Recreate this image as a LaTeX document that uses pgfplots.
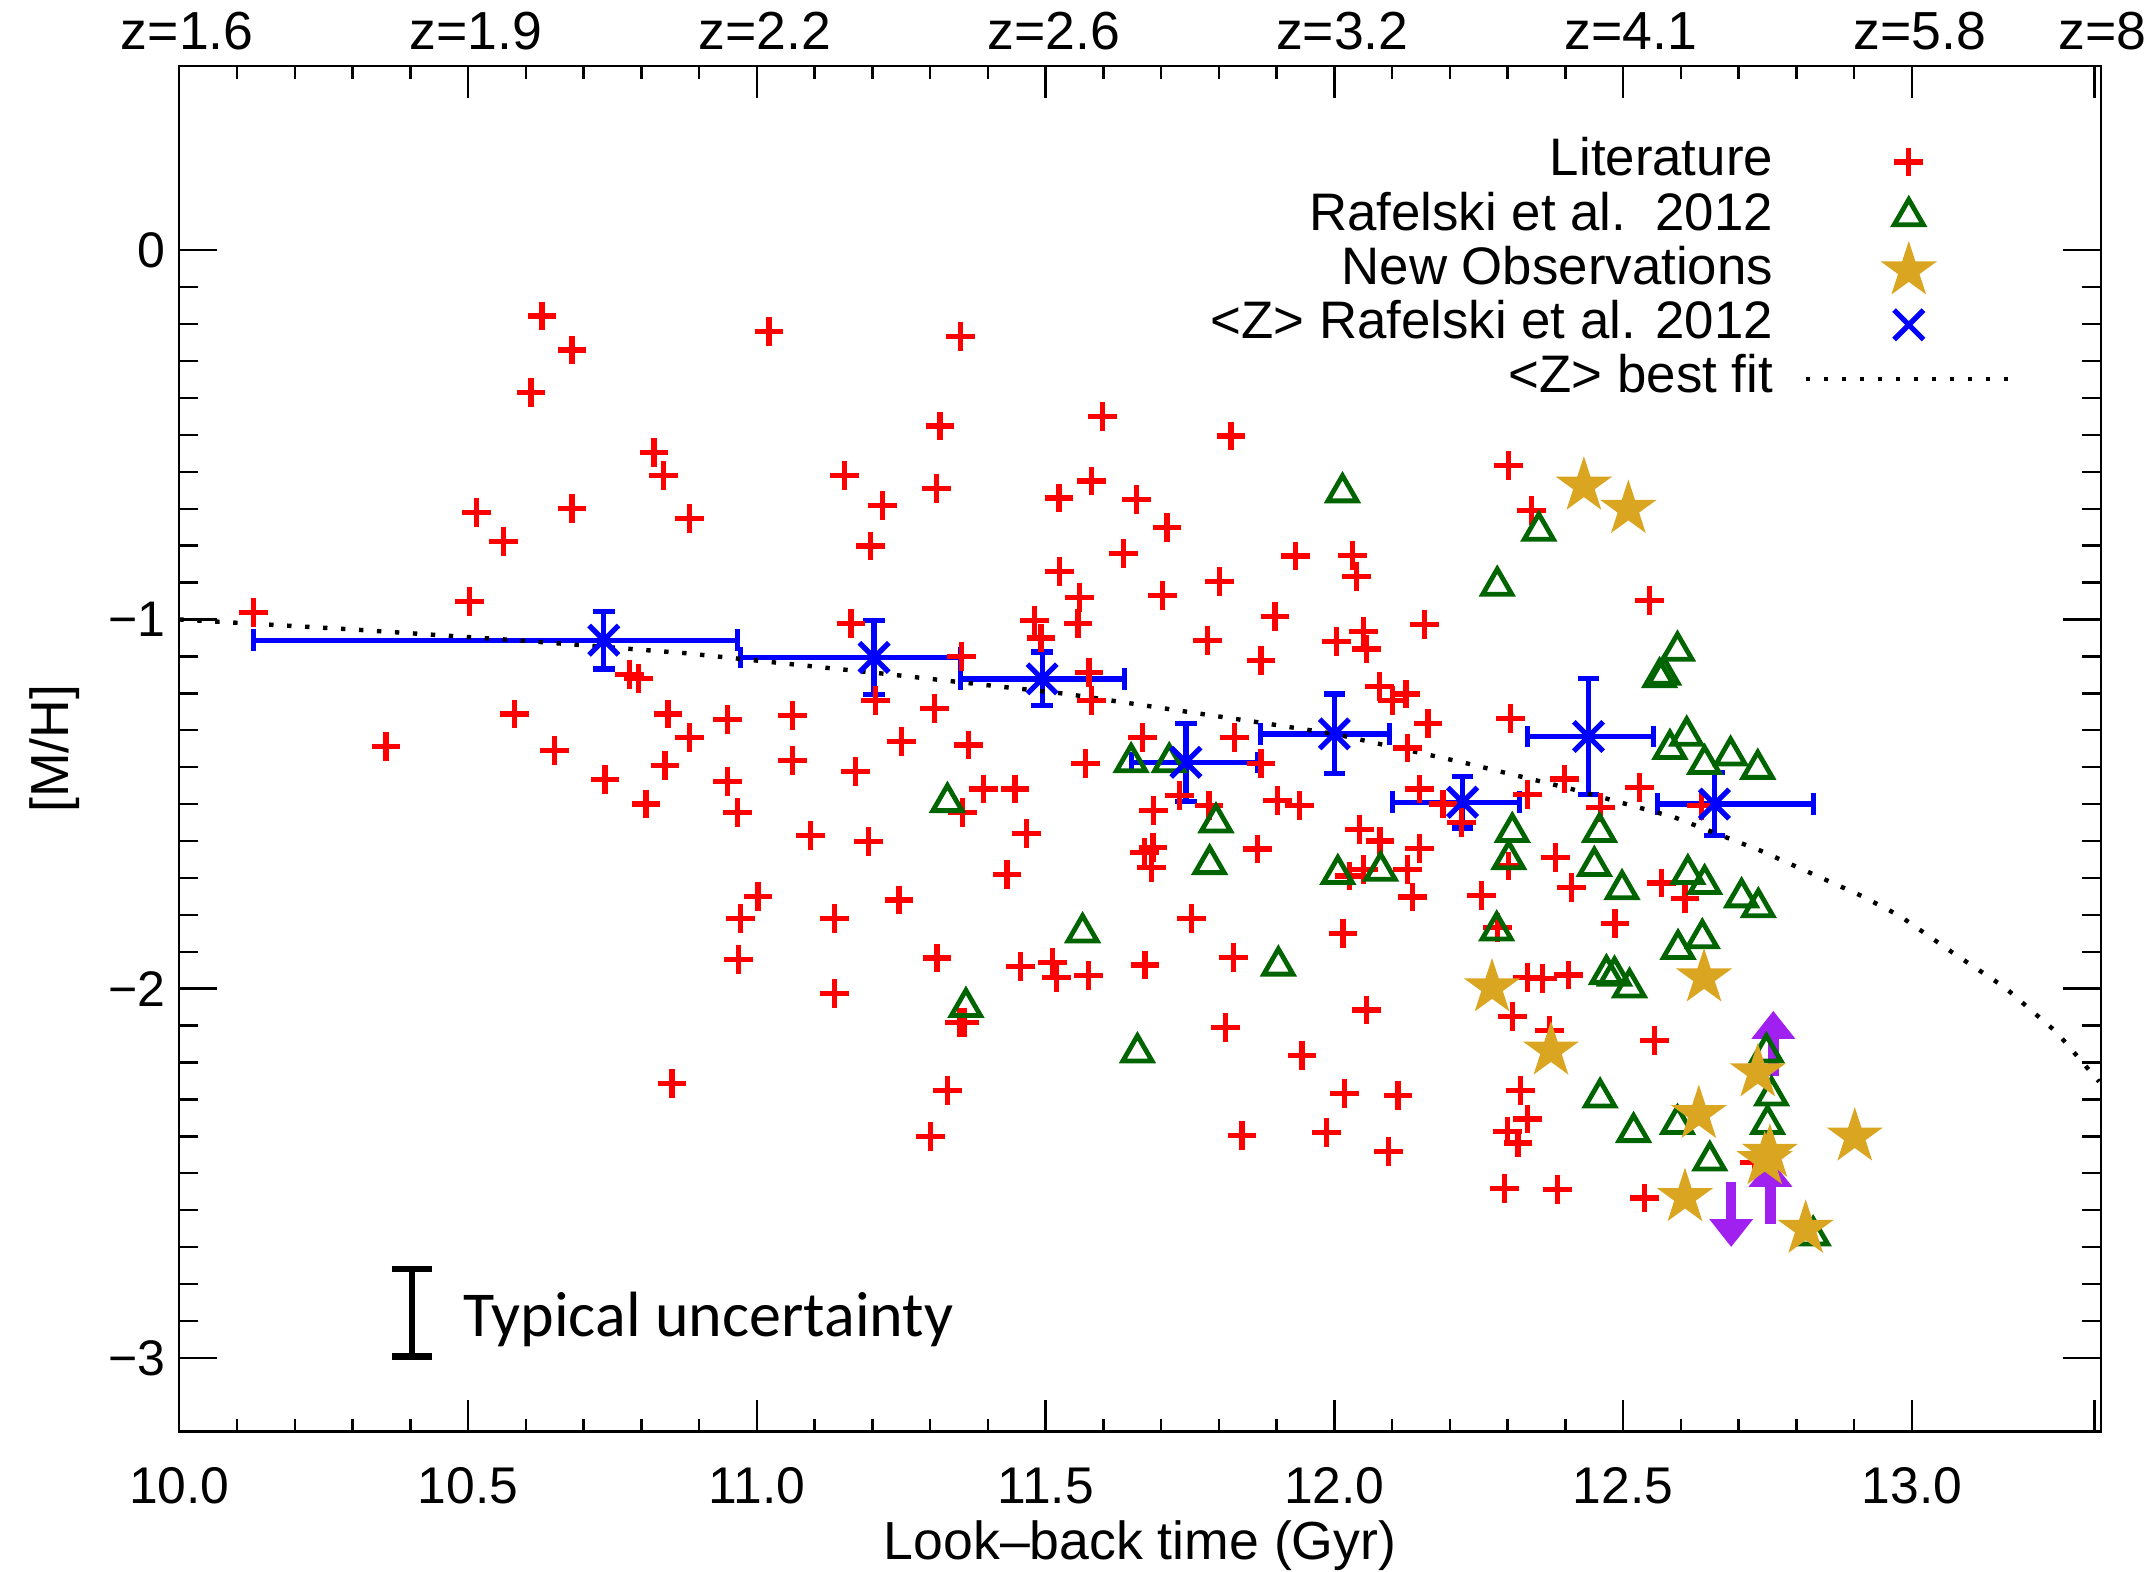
\documentclass[border=0pt]{standalone}
\usepackage{pgfplots}
\pgfplotsset{compat=1.18}
\usetikzlibrary{arrows.meta}
\usepackage{fontspec}
\setmainfont{Liberation Sans}
\newfontfamily\calibri{Carlito}
\definecolor{dgreen}{RGB}{0,100,0}
\definecolor{gold}{RGB}{218,165,32}
\definecolor{xpurple}{RGB}{160,32,240}
\pgfdeclareplotmark{fstar}{%
 \pgfpathmoveto{\pgfpointpolar{90}{\pgfplotmarksize}}%
 \pgfpathlineto{\pgfpointpolar{126}{0.382\pgfplotmarksize}}%
 \pgfpathlineto{\pgfpointpolar{162}{\pgfplotmarksize}}%
 \pgfpathlineto{\pgfpointpolar{198}{0.382\pgfplotmarksize}}%
 \pgfpathlineto{\pgfpointpolar{234}{\pgfplotmarksize}}%
 \pgfpathlineto{\pgfpointpolar{270}{0.382\pgfplotmarksize}}%
 \pgfpathlineto{\pgfpointpolar{306}{\pgfplotmarksize}}%
 \pgfpathlineto{\pgfpointpolar{342}{0.382\pgfplotmarksize}}%
 \pgfpathlineto{\pgfpointpolar{18}{\pgfplotmarksize}}%
 \pgfpathlineto{\pgfpointpolar{54}{0.382\pgfplotmarksize}}%
 \pgfpathclose\pgfusepathqfill}
\pgfplotsset{
 legmark/.style={legend image code/.code={\draw[overlay,mark repeat=2,mark phase=2,##1] plot coordinates {(0pt,0pt) (25.8pt,0pt) (51.6pt,0pt)};}},
 legline/.style={legend image code/.code={\draw[##1] (0pt,0pt) -- (51.6pt,0pt);}},
}
\begin{document}
\begin{tikzpicture}
\begin{axis}[
  at={(0pt,0pt)}, anchor=south west,
  scale only axis, width=480.4pt, height=341.5pt,
  xmin=10, xmax=13.327, ymin=-3.2, ymax=0.5,
  axis line style={line width=0.6pt},
  tick style={line width=0.6pt, black},
  xtick={10,10.5,11,11.5,12,12.5,13},
  xticklabels={10.0,10.5,11.0,11.5,12.0,12.5,13.0},
  xtick style={draw=none},
  xticklabel pos=left,
  xticklabel style={font=\fontsize{12.9}{12.9}\selectfont, anchor=base, yshift=-17.85pt},
  ytick={-3,-2,-1,0},
  yticklabels={−3,−2,−1,0},
  minor y tick num=9,
  ytick pos=both, yticklabel pos=left,
  yticklabel style={font=\fontsize{12.5}{12.5}\selectfont},
  major tick length=9.4pt, minor tick length=4.7pt,
  xlabel={Look–back time (Gyr)},
  xlabel style={at={(axis description cs:0.5,-0.0935)}, anchor=base, font=\fontsize{13.4}{13.4}\selectfont},
  ylabel={[M/H]},
  ylabel style={at={(axis description cs:-0.0579,0.5)}, anchor=base, font=\fontsize{13.4}{13.4}\selectfont},
  legend plot pos=right,
  legend cell align=right,
  legend style={at={(axis cs:13.177,0.3034)}, anchor=north east, draw=none, fill=none,
    inner sep=0pt, outer sep=0pt, row sep=4.16pt, column sep=7.6pt,
    font=\fontsize{13.2}{13.2}\selectfont,
    nodes={inner sep=0pt, text height=9.4pt, text depth=0pt}},
  legend image post style={yshift=-1.25pt},
]
% Literature
\addplot[only marks, mark=+, mark size=3.6pt, red, line width=1.3pt, legmark] table {
x y
10.128 -0.981
10.358 -1.344
10.502 -0.952
10.514 -0.711
10.562 -0.789
10.581 -1.256
10.609 -0.385
10.628 -0.178
10.649 -1.356
10.680 -0.270
10.680 -0.700
10.737 -1.433
10.780 -1.150
10.795 -1.160
10.808 -1.500
10.822 -0.548
10.839 -0.611
10.841 -1.396
10.846 -1.256
10.853 -2.256
10.884 -0.726
10.884 -1.319
10.949 -1.271
10.949 -1.438
10.967 -1.522
11.021 -0.219
11.062 -1.261
11.062 -1.381
11.152 -0.611
11.163 -1.011
11.171 -1.411
11.197 -0.801
11.206 -1.220
11.218 -0.691
11.250 -1.331
11.307 -1.241
11.311 -0.645
11.317 -0.476
11.353 -0.233
11.355 -1.100
11.356 -1.522
11.366 -1.340
11.393 -1.459
11.447 -1.459
11.481 -1.002
11.492 -1.050
11.523 -0.671
11.524 -0.871
11.598 -0.451
11.821 -0.503
11.580 -0.625
11.658 -0.674
11.710 -0.751
11.635 -0.821
11.932 -0.828
12.032 -0.826
12.038 -0.884
11.559 -0.940
11.703 -0.936
11.801 -0.898
11.556 -1.010
11.897 -0.993
12.156 -1.013
11.780 -1.056
12.003 -1.060
12.050 -1.033
12.055 -1.080
11.873 -1.112
11.575 -1.143
11.579 -1.220
12.078 -1.181
12.101 -1.220
12.124 -1.202
12.162 -1.281
11.668 -1.319
11.827 -1.319
11.569 -1.390
11.873 -1.390
12.127 -1.348
12.147 -1.459
11.732 -1.477
11.783 -1.503
11.687 -1.518
11.902 -1.491
11.939 -1.504
12.188 -1.500
12.220 -1.550
12.301 -0.584
12.341 -0.704
12.546 -0.949
12.305 -1.268
12.399 -1.432
12.335 -1.474
12.528 -1.455
12.461 -1.509
12.636 -1.504
11.093 -1.585
11.194 -1.602
11.467 -1.579
11.433 -1.690
11.002 -1.751
10.972 -1.809
11.135 -1.809
11.246 -1.760
10.968 -1.920
11.312 -1.917
11.457 -1.939
11.512 -1.929
11.519 -1.970
11.135 -2.013
11.351 -2.091
11.359 -2.091
11.330 -2.275
11.301 -2.400
11.686 -1.618
11.671 -1.631
11.684 -1.672
11.867 -1.622
12.043 -1.568
12.079 -1.600
12.147 -1.620
12.026 -1.695
12.050 -1.677
12.126 -1.678
12.135 -1.752
11.752 -1.809
12.015 -1.850
11.574 -1.965
11.672 -1.936
11.825 -1.916
12.056 -2.058
11.812 -2.105
11.944 -2.182
12.018 -2.283
12.110 -2.290
11.840 -2.398
11.987 -2.389
12.094 -2.441
12.383 -1.645
12.410 -1.726
12.255 -1.747
12.302 -1.668
12.283 -1.834
12.486 -1.824
12.566 -1.714
12.607 -1.755
12.335 -1.970
12.360 -1.972
12.405 -1.963
12.308 -2.076
12.373 -2.114
12.554 -2.141
12.322 -2.277
12.335 -2.353
12.300 -2.386
12.318 -2.418
12.295 -2.541
12.386 -2.545
12.537 -2.567
12.728 -2.470
};
\addlegendentry{Literature}
% Rafelski et al. 2012
\addplot[only marks, mark=triangle, mark size=4.2pt, dgreen, line width=1.2pt, legmark] table {
x y
12.014 -0.656
12.354 -0.760
12.282 -0.909
12.594 -1.085
12.563 -1.157
12.570 -1.150
12.610 -1.315
12.581 -1.351
12.641 -1.392
12.686 -1.369
12.733 -1.405
11.648 -1.387
11.714 -1.387
11.330 -1.495
11.795 -1.550
12.308 -1.576
12.459 -1.576
12.302 -1.650
12.450 -1.668
12.498 -1.731
12.612 -1.690
12.641 -1.717
12.705 -1.753
12.734 -1.780
12.281 -1.843
12.595 -1.893
12.637 -1.864
12.471 -1.961
12.485 -1.965
12.511 -1.997
12.748 -2.173
12.460 -2.295
12.757 -2.290
12.518 -2.389
12.594 -2.367
12.750 -2.367
12.650 -2.466
12.829 -2.669
11.784 -1.663
12.006 -1.690
12.080 -1.681
11.564 -1.848
11.903 -1.938
11.659 -2.173
11.362 -2.050
};
\addlegendentry{Rafelski et al.\ \ 2012}
% New observations
\addplot[only marks, mark=fstar, mark size=7.4pt, mark options={fill=gold, draw=none}, gold, legmark] table {
x y
12.432 -0.638
12.509 -0.701
12.273 -1.997
12.640 -1.970
12.375 -2.168
12.733 -2.227
12.631 -2.340
12.754 -2.445
12.745 -2.465
12.607 -2.565
12.816 -2.651
12.901 -2.401
};
\addlegendentry{New Observations}
% <Z> Rafelski
\addplot[only marks, mark=x, mark size=5.2pt, blue, line width=1.3pt, legmark,
  error bars/.cd, x dir=both, x explicit, y dir=both, y explicit,
  error bar style={line width=1.3pt, blue},
  error mark options={rotate=90, blue, mark size=2.7pt, line width=1.3pt}]
  table[x=x, y=y, x error plus=exp, x error minus=exm, y error=ey] {
x y exm exp ey
10.735 -1.056 0.607 0.231 0.078
11.203 -1.103 0.231 0.149 0.100
11.494 -1.161 0.141 0.143 0.073
11.743 -1.387 0.095 0.124 0.105
12.000 -1.310 0.128 0.095 0.108
12.222 -1.495 0.121 0.099 0.070
12.440 -1.317 0.105 0.113 0.158
12.658 -1.500 0.099 0.171 0.085
};
\addlegendentry{{<}Z{>} Rafelski et al. 2012}
% best fit
\addplot[black, line width=1.1pt, dash pattern=on 1.1pt off 3.4pt, legline] table {
x y
10.000 -1.000
10.300 -1.027
10.600 -1.058
10.874 -1.091
11.220 -1.147
11.538 -1.202
11.870 -1.279
12.000 -1.310
12.222 -1.387
12.410 -1.459
12.589 -1.536
12.739 -1.627
12.913 -1.749
12.979 -1.803
13.070 -1.902
13.161 -1.997
13.251 -2.119
13.324 -2.252
};
\addlegendentry{{<}Z{>} best fit}
% limits (arrows)
\addplot[xpurple, line width=2.6pt, forget plot, quiver={u=0, v=\thisrow{v}},
  -{Triangle[width=10.5pt,length=7pt]}] table[x=x, y=y] {
x y v
12.760 -2.236 0.176
12.755 -2.637 0.176
12.687 -2.523 -0.177
};
% typical uncertainty
\addplot[black, mark=none, forget plot, line width=1.6pt,
  error bars/.cd, y dir=both, y explicit,
  error bar style={line width=1.6pt, black},
  error mark options={rotate=90, black, mark size=5.1pt, line width=1.6pt}]
  coordinates {(10.403,-2.8775) +- (0,0.1185)};
\node[anchor=base west, inner sep=0pt, font=\calibri\fontsize{16}{16}\selectfont] at (axis cs:10.4905,-2.941) {Typical uncertainty};
\end{axis}
\begin{axis}[
  at={(0pt,0pt)}, anchor=south west,
  scale only axis, width=480.4pt, height=341.5pt,
  xmin=10, xmax=13.327, ymin=-3.2, ymax=0.5,
  axis line style={line width=0.6pt},
  tick style={line width=0.6pt, black},
  xtick={10,10.5,11,11.5,12,12.5,13},
  xticklabels={{z=1.6},{z=1.9},{z=2.2},{z=2.6},{z=3.2},{z=4.1},{z=5.8}},
  extra x ticks={13.316}, extra x tick labels={{z=8}},
  minor x tick num=4,
  xtick pos=both, xticklabel pos=right,
  xticklabel style={font=\fontsize{13.4}{13.4}\selectfont, anchor=base, yshift=4.1pt, xshift=2pt},
  ytick=\empty,
  major tick length=8pt, minor tick length=3.2pt,
]
\end{axis}
\pgfresetboundingbox
\path[use as bounding box] (-44.825pt,-34.85pt) rectangle (491.7pt,357.925pt);
\end{tikzpicture}
\end{document}
